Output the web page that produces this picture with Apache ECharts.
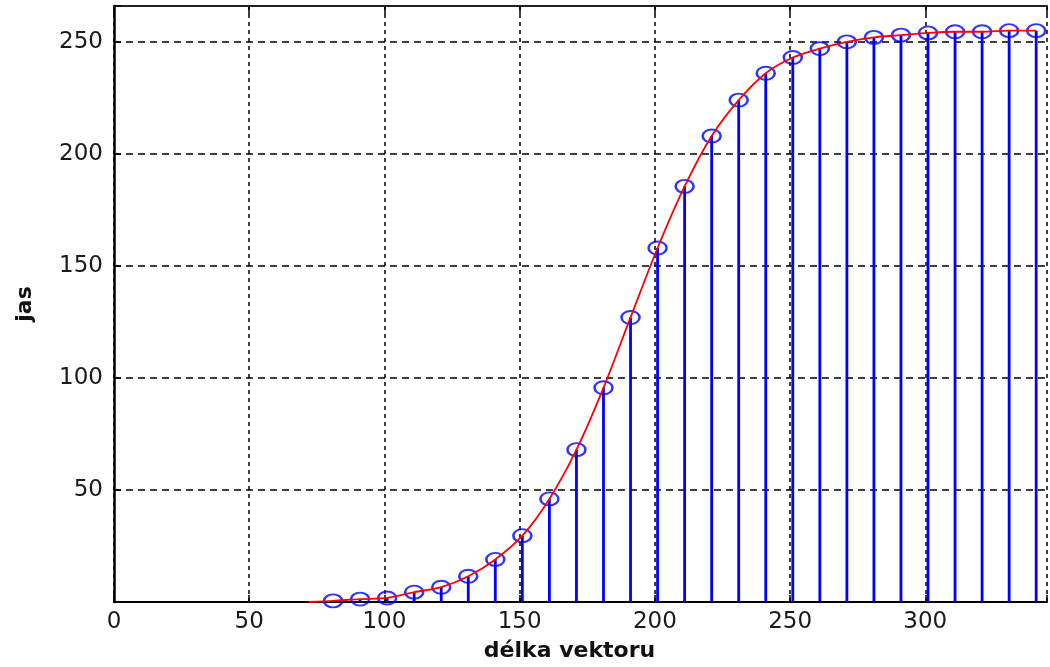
<!DOCTYPE html>
<html>
<head>
<meta charset="utf-8">
<script src="https://cdn.jsdelivr.net/npm/echarts@6/dist/echarts.min.js"></script>
<style>
html,body{margin:0;padding:0;background:#fff;}
#chart{width:1050px;height:667px;}
</style>
</head>
<body>
<div id="chart"></div>
<script>
// Data
var stemX = [81, 91, 101, 111, 121, 131, 141, 151, 161, 171, 181, 191, 201, 211, 221, 231, 241, 251, 261, 271, 281, 291, 301, 311, 321, 331, 341];
var stemY = [0.5, 1.3, 1.8, 4.4, 6.6, 11.5, 19, 29.6, 46, 68, 95.6, 127, 158, 185.5, 208, 224, 236, 243, 247, 250, 252, 253, 254, 254.5, 254.5, 255, 255];
var curveStart = [72, 0];
var xTicks = [0, 50, 100, 150, 200, 250, 300];
var yTicks = [50, 100, 150, 200, 250];

var stemData = stemX.map(function (x, i) { return [x, stemY[i]]; });
var curveData = [curveStart].concat(stemData);

var font = 'DejaVu Sans';
var chart = echarts.init(document.getElementById('chart'), null, {renderer: 'canvas'});
var option = {
  animation: false,
  backgroundColor: '#ffffff',
  grid: {left: 114, right: 0, top: 6, bottom: 60, containLabel: false},
  xAxis: [{
    type: 'value', min: 0, max: 345, interval: 50,
    name: 'délka vektoru', nameLocation: 'middle', nameGap: 38,
    nameTextStyle: {fontFamily: font, fontSize: 22, fontWeight: 'bold', color: '#111', padding: [0, 22, 0, 0]},
    axisLine: {show: true, onZero: false, lineStyle: {color: '#000', width: 2}},
    axisTick: {show: true, inside: true, length: 7, lineStyle: {color: '#000', width: 1.5}},
    axisLabel: {fontFamily: font, fontSize: 23, color: '#1a1a1a', margin: 9,
      formatter: function (v) { return xTicks.indexOf(v) >= 0 ? String(v) : ''; }},
    splitLine: {show: true, lineStyle: {color: '#000', width: 1.5, type: [4, 4]}}
  }, {
    type: 'value', position: 'top', min: 0, max: 345, interval: 50,
    axisLine: {show: true, onZero: false, lineStyle: {color: '#222', width: 2}},
    axisTick: {show: true, inside: true, length: 8, lineStyle: {color: '#000', width: 1.5}},
    axisLabel: {show: false}, splitLine: {show: false}
  }],
  yAxis: [{
    type: 'value', min: 0, max: 266, interval: 50,
    name: 'jas', nameLocation: 'middle', nameGap: 78, nameRotate: 90,
    nameTextStyle: {fontFamily: font, fontSize: 22, fontWeight: 'bold', color: '#111'},
    axisLine: {show: true, onZero: false, lineStyle: {color: '#000', width: 2.5}},
    axisTick: {show: true, inside: true, length: 7, lineStyle: {color: '#000', width: 1.5}},
    axisLabel: {fontFamily: font, fontSize: 23, color: '#1a1a1a', margin: 11, showMinLabel: false,
      formatter: function (v) { return yTicks.indexOf(v) >= 0 ? String(v) : ''; }},
    splitLine: {show: true, lineStyle: {color: '#000', width: 1.5, type: [7, 5]}}
  }],
  series: [{
    type: 'custom',
    z: 3,
    data: stemData,
    clip: true,
    renderItem: function (params, api) {
      var x = api.value(0), y = api.value(1);
      var p0 = api.coord([x, 0]);
      var p1 = api.coord([x, y]);
      return {type: 'line', shape: {x1: p0[0], y1: p0[1], x2: p1[0], y2: p1[1]},
        style: {stroke: '#0000ff', lineWidth: 2.8}};
    }
  }, {
    type: 'scatter',
    z: 4,
    data: stemData,
    symbol: 'circle',
    symbolSize: [18, 13],
    itemStyle: {color: 'rgba(0,0,0,0)', borderColor: '#0000ff', borderWidth: 2.2},
    silent: true
  }, {
    type: 'line',
    z: 5,
    data: curveData,
    smooth: 0.3,
    showSymbol: false,
    symbol: 'none',
    lineStyle: {color: '#ff0000', width: 1.8},
    silent: true
  }]
};
chart.setOption(option);
</script>
</body>
</html>
